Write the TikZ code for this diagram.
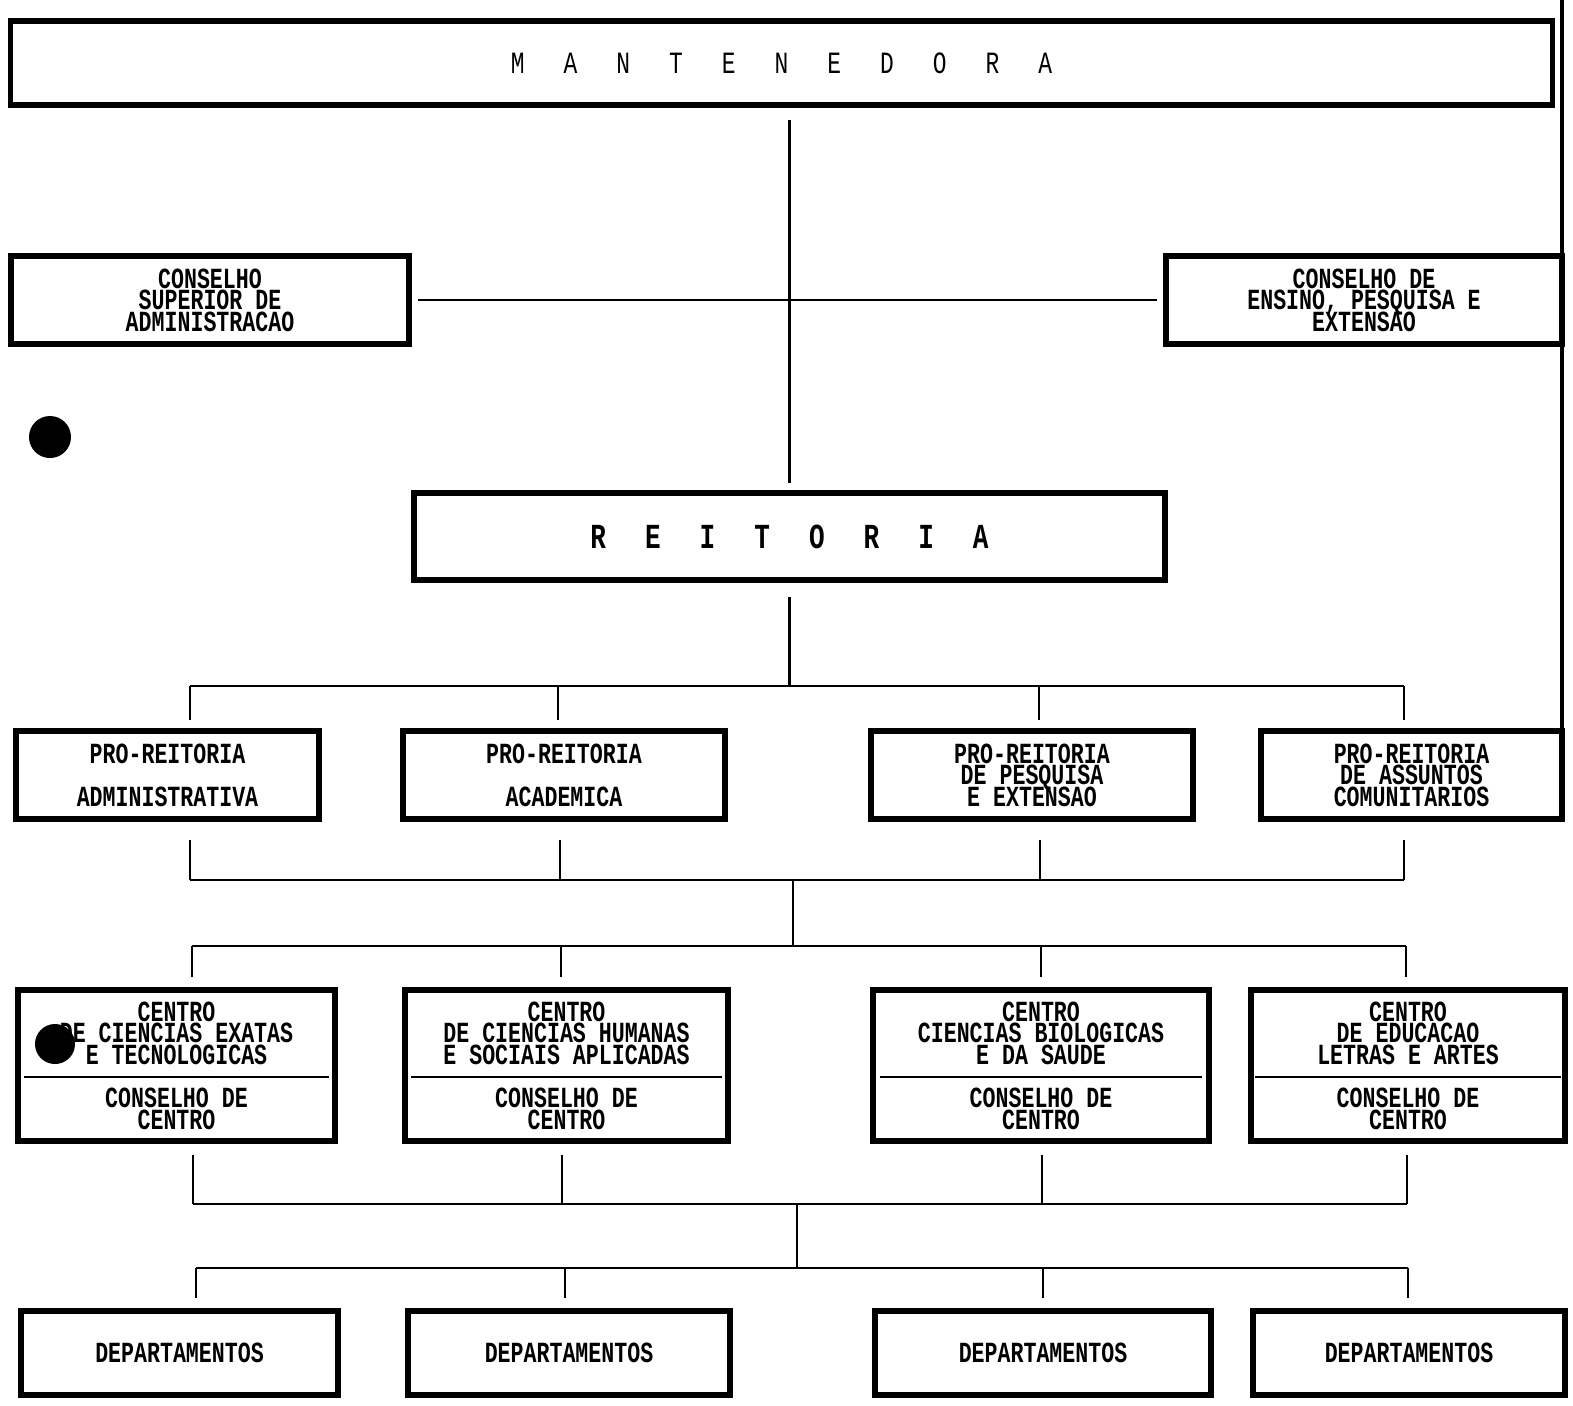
\documentclass[tikz,border=0pt]{standalone}
\usepackage{fontspec}
\setmainfont[FakeStretch=0.74]{Liberation Mono}

\newcommand\lgap{\hspace{3.9mm}}
\newcommand\boxfont{\fontsize{8.3}{6.15}\selectfont\bfseries\lineskiplimit=-\maxdimen}
\newcommand\divrule[1]{\rule[2.2pt]{#1}{0.6pt}}

\begin{document}
\begin{tikzpicture}[x=0.01cm, y=-0.01cm,
    orgbox/.style={draw, line width=1.6pt, align=center, inner sep=0pt, font=\boxfont},
    link/.style={line width=0.7pt},
    spot/.style={fill=black}
]
\useasboundingbox (0,0) rectangle (1573,1405);

% Upper boxes
\node[orgbox, font=\fontsize{8.8}{7}\selectfont, minimum width=15.41cm, minimum height=0.84cm] (mant) at (781.5,63)
    {M\lgap A\lgap N\lgap T\lgap E\lgap N\lgap E\lgap D\lgap O\lgap R\lgap A};
\node[orgbox, minimum width=3.98cm, minimum height=0.88cm] (csa)  at (210,300)  {CONSELHO\\SUPERIOR DE\\ADMINISTRACAO};
\node[orgbox, minimum width=3.96cm, minimum height=0.88cm] (cepe) at (1364,300) {CONSELHO DE\\ENSINO, PESQUISA E\\EXTENSAO};
\node[orgbox, font=\fontsize{10}{8}\selectfont\bfseries, minimum width=7.51cm, minimum height=0.87cm] (reit) at (789.5,536.5)
    {R\lgap E\lgap I\lgap T\lgap O\lgap R\lgap I\lgap A};

% Pro-reitorias
\node[orgbox, minimum width=3.03cm, minimum height=0.88cm] (pra) at (167.5,775) {PRO-REITORIA\\[6.15pt]ADMINISTRATIVA};
\node[orgbox, minimum width=3.22cm, minimum height=0.88cm] (prc) at (564,775)   {PRO-REITORIA\\[6.15pt]ACADEMICA};
\node[orgbox, minimum width=3.22cm, minimum height=0.88cm] (prp) at (1032,775)  {PRO-REITORIA\\DE PESQUISA\\E EXTENSAO};
\node[orgbox, minimum width=3.01cm, minimum height=0.88cm] (prs) at (1411.5,775) {PRO-REITORIA\\DE ASSUNTOS\\COMUNITARIOS};

% Centros
\node[orgbox, minimum width=3.17cm, minimum height=1.51cm] (cet) at (176.5,1065.5)
    {CENTRO\\DE CIENCIAS EXATAS\\E TECNOLOGICAS\\\divrule{3.05cm}\\CONSELHO DE\\CENTRO};
\node[orgbox, minimum width=3.23cm, minimum height=1.51cm] (chs) at (566.5,1065.5)
    {CENTRO\\DE CIENCIAS HUMANAS\\E SOCIAIS APLICADAS\\\divrule{3.1cm}\\CONSELHO DE\\CENTRO};
\node[orgbox, minimum width=3.36cm, minimum height=1.51cm] (cbs) at (1041,1065.5)
    {CENTRO\\CIENCIAS BIOLOGICAS\\E DA SAUDE\\\divrule{3.22cm}\\CONSELHO DE\\CENTRO};
\node[orgbox, minimum width=3.14cm, minimum height=1.51cm] (cla) at (1408,1065.5)
    {CENTRO\\DE EDUCACAO\\LETRAS E ARTES\\\divrule{3.05cm}\\CONSELHO DE\\CENTRO};

% Departamentos
\node[orgbox, minimum width=3.17cm, minimum height=0.84cm] (dep1) at (179.5,1353) {DEPARTAMENTOS};
\node[orgbox, minimum width=3.22cm, minimum height=0.84cm] (dep2) at (569,1353)   {DEPARTAMENTOS};
\node[orgbox, minimum width=3.36cm, minimum height=0.84cm] (dep3) at (1043,1353)  {DEPARTAMENTOS};
\node[orgbox, minimum width=3.12cm, minimum height=0.84cm] (dep4) at (1409,1353)  {DEPARTAMENTOS};

% Junctions
\coordinate (j1) at (791,686);
\coordinate (j2) at (793,880);
\coordinate (j3) at (793,946);
\coordinate (j4) at (797,1204);
\coordinate (j5) at (797,1268);

% Links
\draw[link, shorten <=0.12cm, shorten >=0.07cm] (reit.north |- mant.south) -- (reit.north);
\draw[link, shorten <=0.06cm, shorten >=0.06cm] (csa) -- (cepe);
\draw[link, shorten <=0.14cm] (reit.south) -- (reit.south |- j1);

\foreach \n/\x in {pra/190, prc/558, prp/1039, prs/1404} {
    \coordinate (t\n) at (\x,686);
    \draw[link, shorten >=0.08cm] (t\n) -- (t\n |- \n.north);
}
\draw[link] (tpra) -- (tprs);

\foreach \n/\x in {pra/190, prc/560, prp/1040, prs/1404} {
    \coordinate (b\n) at (\x,880);
    \draw[link, shorten <=0.18cm] (\n.south -| b\n) -- (b\n);
}
\draw[link] (bpra) -- (bprs);
\draw[link] (j2) -- (j3);

\foreach \n/\x in {cet/192, chs/561, cbs/1041, cla/1406} {
    \coordinate (t\n) at (\x,946);
    \draw[link, shorten >=0.1cm] (t\n) -- (t\n |- \n.north);
}
\draw[link] (tcet) -- (tcla);

\foreach \n/\x in {cet/193, chs/562, cbs/1042, cla/1407} {
    \coordinate (b\n) at (\x,1204);
    \draw[link, shorten <=0.11cm] (\n.south -| b\n) -- (b\n);
}
\draw[link] (bcet) -- (bcla);
\draw[link] (j4) -- (j5);

\foreach \n/\x in {dep1/196, dep2/565, dep3/1043, dep4/1408} {
    \coordinate (t\n) at (\x,1268);
    \draw[link, shorten >=0.1cm] (t\n) -- (t\n |- \n.north);
}
\draw[link] (tdep1) -- (tdep4);

% Scan marks
\fill[spot] (50,437) circle[radius=0.21cm];
\fill[spot] (55,1044) circle[radius=0.2cm];
\draw[line width=1.4pt] (1562,0) -- (1562,735);

\end{tikzpicture}
\end{document}
